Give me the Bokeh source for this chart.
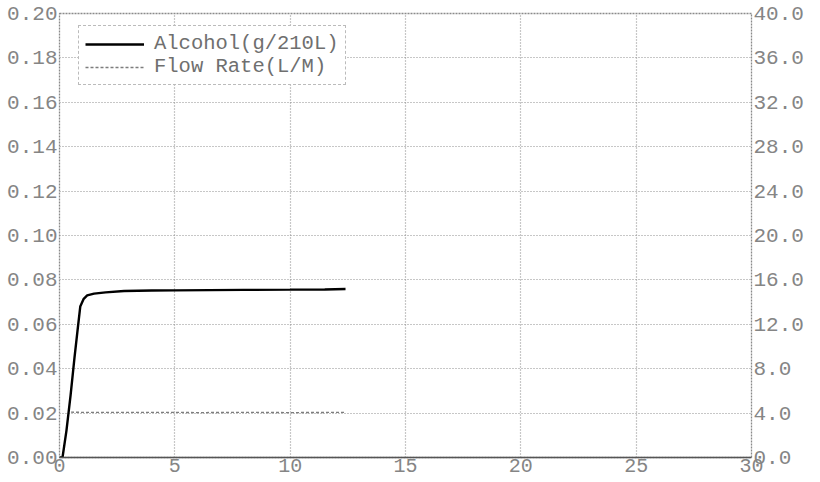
from bokeh.plotting import figure
from bokeh.models import Range1d, LinearAxis, FixedTicker, PrintfTickFormatter, Legend, LegendItem
from bokeh.embed import file_html
from bokeh.resources import INLINE

# --- data ---
time_s = [0.0, 0.13, 0.3, 0.48, 0.65, 0.78, 0.9, 1.05, 1.2, 1.5, 2.0, 2.8, 4.0, 5.0, 6.5, 8.0, 10.0, 11.5, 12.4]
alcohol = [0.0, 0.0, 0.012, 0.028, 0.045, 0.057, 0.068, 0.0715, 0.0730, 0.0738, 0.0744, 0.0750,
           0.0752, 0.0753, 0.0754, 0.0755, 0.0756, 0.0757, 0.0759]
flow_time = [0.5, 2.0, 4.0, 6.0, 8.0, 10.0, 12.4]
flow_rate = [4.08, 4.06, 4.07, 4.05, 4.06, 4.05, 4.06]

x_ticks = [0, 5, 10, 15, 20, 25, 30]
left_ticks = [0.0, 0.02, 0.04, 0.06, 0.08, 0.10, 0.12, 0.14, 0.16, 0.18, 0.20]
right_ticks = [0.0, 4.0, 8.0, 12.0, 16.0, 20.0, 24.0, 28.0, 32.0, 36.0, 40.0]

FONT = "Liberation Mono"
TICK_COLOR = "#858585"

p = figure(width=806, height=481, output_backend="svg", toolbar_location=None,
           x_range=Range1d(0, 30), y_range=Range1d(0, 0.20),
           min_border_left=59, min_border_right=0, min_border_top=13, min_border_bottom=24)
p.extra_y_ranges = {"flow": Range1d(0, 40)}

p.background_fill_color = "white"
p.border_fill_color = "white"
p.outline_line_color = "#8a8a8a"
p.outline_line_dash = "2 1"
p.outline_line_width = 1.3

# grids
for g in (p.xgrid, p.ygrid):
    g.grid_line_color = "#8f8f8f"
    g.grid_line_dash = "1 2"
    g.grid_line_width = 1.2
p.xgrid.ticker = FixedTicker(ticks=x_ticks)
p.ygrid.ticker = FixedTicker(ticks=left_ticks)

def style_axis(ax, size="21px", standoff=2):
    ax.major_tick_line_color = None
    ax.minor_tick_line_color = None
    ax.major_tick_out = 0
    ax.major_tick_in = 0
    ax.major_label_standoff = standoff
    ax.major_label_text_font = FONT
    ax.major_label_text_font_size = size
    ax.major_label_text_color = TICK_COLOR

# x axis
xa = p.xaxis[0]
xa.ticker = FixedTicker(ticks=x_ticks)
style_axis(xa, size="20px", standoff=1)
xa.axis_line_color = "#555555"
xa.axis_line_width = 1.5

# left axis
ya = p.yaxis[0]
ya.ticker = FixedTicker(ticks=left_ticks)
ya.formatter = PrintfTickFormatter(format="%.2f")
style_axis(ya)
ya.axis_line_color = None

# right axis
ra = LinearAxis(y_range_name="flow", ticker=FixedTicker(ticks=right_ticks),
                formatter=PrintfTickFormatter(format="%.1f"))
style_axis(ra)
ra.axis_line_color = None
p.add_layout(ra, "right")

# series
r_alc = p.line(time_s, alcohol, line_color="black", line_width=2.4)
r_flow = p.line(flow_time, flow_rate, y_range_name="flow", line_color="#7d7d7d",
                line_width=1.3, line_dash="3 2")

legend = Legend(items=[LegendItem(label="Alcohol(g/210L)", renderers=[r_alc]),
                       LegendItem(label="Flow Rate(L/M)", renderers=[r_flow])],
                location=(19, 372))
legend.margin = 0
legend.padding = 6
legend.spacing = 0
legend.glyph_width = 59
legend.glyph_height = 16
legend.label_height = 16
legend.label_standoff = 10
legend.label_text_font = FONT
legend.label_text_font_size = "20.5px"
legend.label_text_line_height = 0.9
legend.label_text_color = "#6f6f6f"
legend.border_line_color = "#7a7a7a"
legend.border_line_dash = "2 1"
legend.border_line_width = 1.3
legend.background_fill_color = "white"
legend.background_fill_alpha = 1.0
p.add_layout(legend)

open("out.html", "w").write(file_html(p, INLINE))
